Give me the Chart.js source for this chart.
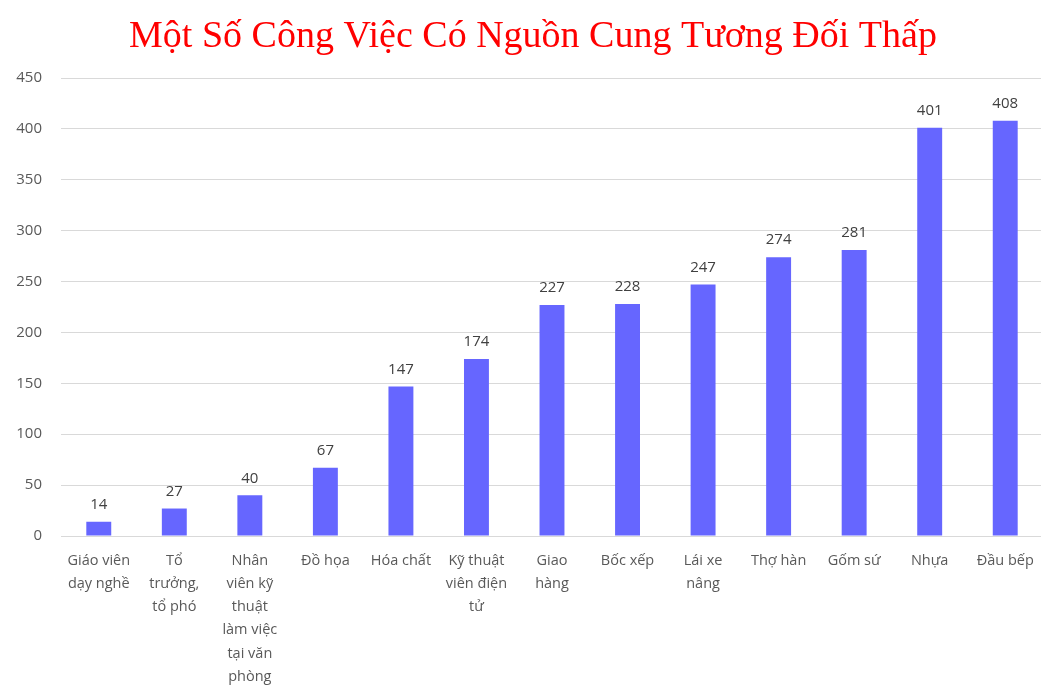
<!DOCTYPE html>
<html>
<head>
<meta charset="utf-8">
<script src="https://cdn.jsdelivr.net/npm/chart.js@4"></script>
<style>
html,body{margin:0;padding:0;background:#fff;overflow:hidden;}
#wrap{width:1041px;height:690px;position:relative;overflow:hidden;}
</style>
</head>
<body>
<div id="wrap"><canvas id="c" width="1043" height="690"></canvas></div>
<script>
const categories = [
  ["Giáo viên", "dạy nghề"],
  ["Tổ", "trưởng,", "tổ phó"],
  ["Nhân", "viên kỹ", "thuật", "làm việc", "tại văn", "phòng"],
  ["Đồ họa"],
  ["Hóa chất"],
  ["Kỹ thuật", "viên điện", "tử"],
  ["Giao", "hàng"],
  ["Bốc xếp"],
  ["Lái xe", "nâng"],
  ["Thợ hàn"],
  ["Gốm sứ"],
  ["Nhựa"],
  ["Đầu bếp"]
];
const values = [14, 27, 40, 67, 147, 174, 227, 228, 247, 274, 281, 401, 408];
const yTicks = [0, 50, 100, 150, 200, 250, 300, 350, 400, 450];
const titleText = "Một Số Công Việc Có Nguồn Cung Tương Đối Thấp";

const valueLabels = {
  id: 'valueLabels',
  afterDatasetsDraw(chart) {
    const ctx = chart.ctx;
    const meta = chart.getDatasetMeta(0);
    ctx.save();
    ctx.font = '15px "Open Sans", sans-serif';
    ctx.fillStyle = '#404040';
    ctx.textAlign = 'center';
    ctx.textBaseline = 'middle';
    meta.data.forEach((bar, i) => {
      ctx.fillText(String(values[i]), bar.x, bar.y - 17);
    });
    ctx.restore();
  }
};

const titleDraw = {
  id: 'titleDraw',
  afterDraw(chart) {
    const ctx = chart.ctx;
    ctx.save();
    ctx.font = '38px "Liberation Serif", "Times New Roman", serif';
    ctx.fillStyle = '#ff0000';
    ctx.textAlign = 'center';
    ctx.textBaseline = 'alphabetic';
    ctx.fillText(titleText, 533, 47);
    ctx.restore();
  }
};

new Chart(document.getElementById('c'), {
  type: 'bar',
  data: {
    labels: categories,
    datasets: [{
      data: values,
      backgroundColor: '#6666ff',
      borderWidth: 0,
      barPercentage: 0.33,
      categoryPercentage: 1.0
    }]
  },
  options: {
    responsive: false,
    animation: false,
    layout: { padding: { left: 0, right: 0, top: 78, bottom: 0 } },
    plugins: {
      legend: { display: false },
      tooltip: { enabled: false },
      title: { display: false }
    },
    scales: {
      x: {
        grid: { display: false, drawTicks: false },
        border: { display: false },
        ticks: {
          color: '#595959',
          font: { family: '"Open Sans", sans-serif', size: 14.5, lineHeight: 1.6 },
          maxRotation: 0,
          minRotation: 0,
          autoSkip: false,
          padding: 13
        },
        afterFit(s) { s.height = 154; s.paddingLeft = 0; s.paddingRight = 0; }
      },
      y: {
        min: 0,
        max: 450,
        afterBuildTicks(s) { s.ticks = yTicks.map(v => ({ value: v })); },
        grid: { color: '#d9d9d9', lineWidth: 1, drawTicks: false },
        border: { display: false },
        ticks: {
          color: '#595959',
          font: { family: '"Open Sans", sans-serif', size: 15 },
          padding: 19
        },
        afterFit(s) { s.width = 61; s.paddingTop = 0; s.paddingBottom = 0; }
      }
    }
  },
  plugins: [valueLabels, titleDraw]
});
</script>
</body>
</html>
